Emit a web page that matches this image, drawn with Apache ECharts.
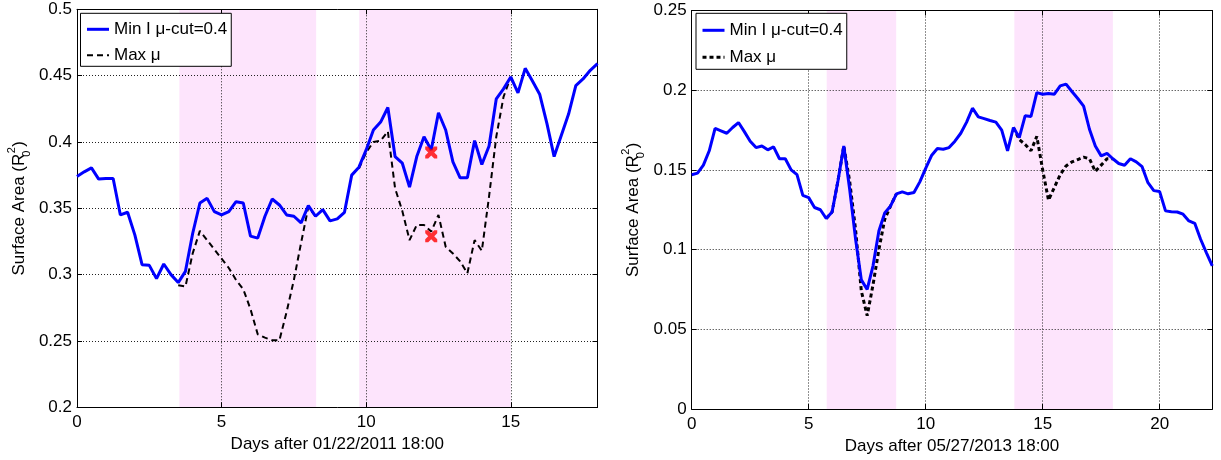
<!DOCTYPE html>
<html>
<head>
<meta charset="utf-8">
<title>Surface area</title>
<script src="https://cdn.jsdelivr.net/npm/echarts@6.0.0/dist/echarts.min.js"></script>
<style>
  html, body { margin: 0; padding: 0; background: #fff; }
  #myChart { width: 1221px; height: 460px; }
</style>
</head>
<body>
<div id="myChart"></div>
<script>
const FONT = '"Liberation Sans", Arial, Helvetica, sans-serif'
const NAME_MIN = 'Min I μ-cut=0.4'
const NAME_MAX = 'Max μ'

// left panel: days after 01/22/2011 18:00
const leftDays = [
  0, 0.25, 0.5, 0.75, 1, 1.25, 1.5, 1.75, 2, 2.25, 2.5, 2.75, 3, 3.25, 3.5, 3.75,
  4, 4.25, 4.5, 4.75, 5, 5.25, 5.5, 5.75, 6, 6.25, 6.5, 6.75, 7, 7.25, 7.5, 7.75,
  8, 8.25, 8.5, 8.75, 9, 9.25, 9.5, 9.75, 10, 10.25, 10.5, 10.75, 11, 11.25, 11.5, 11.75,
  12, 12.25, 12.5, 12.75, 13, 13.25, 13.5, 13.75, 14, 14.25, 14.5, 14.75, 15, 15.25, 15.5, 15.75,
  16, 16.25, 16.5, 16.75, 17, 17.25, 17.5, 17.75, 18
]
const leftMinI = [
  0.374, 0.3775, 0.3805, 0.372, 0.3725, 0.3725, 0.345, 0.347, 0.330, 0.3075, 0.307, 0.297, 0.308, 0.300, 0.294, 0.3025,
  0.331, 0.354, 0.3575, 0.3475, 0.345, 0.3475, 0.355, 0.354, 0.329, 0.3275, 0.344, 0.357, 0.3525, 0.345, 0.344, 0.339,
  0.352, 0.344, 0.349, 0.3405, 0.342, 0.347, 0.375, 0.381, 0.394, 0.409, 0.415, 0.426, 0.389, 0.384, 0.366, 0.389,
  0.404, 0.394, 0.422, 0.409, 0.385, 0.373, 0.373, 0.401, 0.383, 0.397, 0.4325, 0.440, 0.449, 0.437, 0.4555, 0.446,
  0.436, 0.414, 0.389, 0.405, 0.421, 0.4425, 0.4475, 0.454, 0.459
]
const leftMaxMu = [
  null, null, null, null, null, null, null, null, null, null, null, null, null, null, 0.292, 0.291,
  0.316, 0.333, 0.326, 0.319, 0.312, 0.305, 0.296, 0.289, 0.274, 0.255, 0.2525, 0.2505, 0.2505, 0.272, 0.296, 0.324,
  0.351, 0.344, null, null, null, null, null, 0.380, 0.392, 0.400, 0.401, 0.408, 0.365, 0.348, 0.326, 0.3375,
  0.3375, 0.3325, 0.345, 0.321, 0.316, 0.310, 0.301, 0.326, 0.318, 0.359, 0.404, 0.434, 0.449, null, null, null,
  null, null, null, null, null, null, null, null, null
]
const leftCrosses = [[12.25, 0.392], [12.25, 0.329]]
const leftShade = [[3.54, 8.27], [9.76, 15.0]]

// right panel: days after 05/27/2013 18:00
const rightDays = [
  0, 0.25, 0.5, 0.75, 1, 1.25, 1.5, 1.75, 2, 2.25, 2.5, 2.75, 3, 3.25, 3.5, 3.75,
  4, 4.25, 4.5, 4.75, 5, 5.25, 5.5, 5.75, 6, 6.25, 6.5, 6.75, 7, 7.25, 7.5, 7.75,
  8, 8.25, 8.5, 8.75, 9, 9.25, 9.5, 9.75, 10, 10.25, 10.5, 10.75, 11, 11.25, 11.5, 11.75,
  12, 12.25, 12.5, 12.75, 13, 13.25, 13.5, 13.75, 14, 14.25, 14.5, 14.75, 15, 15.25, 15.5, 15.75,
  16, 16.25, 16.5, 16.75, 17, 17.25, 17.5, 17.75, 18, 18.25, 18.5, 18.75, 19, 19.25, 19.5, 19.75,
  20, 20.25, 20.5, 20.75, 21, 21.25, 21.5, 21.75, 22, 22.25
]
const rightMinI = [
  0.147, 0.148, 0.153, 0.162, 0.176, 0.1745, 0.173, 0.1766, 0.1797, 0.174, 0.168, 0.164, 0.165, 0.1626, 0.1644, 0.157,
  0.157, 0.150, 0.147, 0.134, 0.1326, 0.1264, 0.125, 0.1195, 0.1236, 0.143, 0.165, 0.138, 0.107, 0.081, 0.075, 0.0898,
  0.1117, 0.123, 0.1274, 0.135, 0.1362, 0.135, 0.1358, 0.1425, 0.151, 0.159, 0.1634, 0.163, 0.164, 0.168, 0.173, 0.180,
  0.1887, 0.1833, 0.1822, 0.181, 0.180, 0.175, 0.162, 0.1766, 0.1703, 0.1839, 0.1835, 0.1985, 0.1975, 0.1979, 0.1975, 0.2027,
  0.2038, 0.1992, 0.1948, 0.190, 0.1755, 0.165, 0.1588, 0.1603, 0.157, 0.154, 0.1529, 0.157, 0.155, 0.152, 0.142, 0.137,
  0.1364, 0.1243, 0.1238, 0.1236, 0.1222, 0.118, 0.1165, 0.1065, 0.098, 0.0898
]
const rightMaxMu = [
  null, null, null, null, null, null, null, null, null, null, null, null, null, null, null, null,
  null, null, null, null, null, null, null, 0.1195, 0.1236, 0.143, 0.165, 0.143, 0.113, 0.074, 0.0585, 0.078,
  0.100, 0.119, 0.1274, 0.135, null, null, null, null, null, null, null, null, null, null, null, null,
  null, null, null, null, null, null, null, 0.1766, 0.169, 0.166, 0.162, 0.171, 0.150, 0.131, 0.139, 0.147,
  0.1525, 0.155, 0.1565, 0.158, 0.157, 0.149, 0.153, 0.157, 0.157, null, null, null, null, null, null, null,
  null, null, null, null, null, null, null, null, null, null
]
const rightShade = [[5.77, 8.74], [13.79, 18.0]]

const chart = echarts.init(document.getElementById('myChart'))

function pairs(days, vals) {
  return days.map((d, i) => [d, vals[i] == null ? '-' : vals[i]])
}

const yName = '{a|Surface Area (R}{b|0}{c|2}{a|)}'
const yRich = {
  a: { fontSize: 17, fontFamily: FONT, color: '#000', lineHeight: 26 },
  b: { fontSize: 11, fontFamily: FONT, color: '#000', lineHeight: 26, verticalAlign: 'bottom', width: 0 },
  c: { fontSize: 11, fontFamily: FONT, color: '#000', lineHeight: 26, verticalAlign: 'top', width: 7 }
}

const gridLine = { show: true, lineStyle: { color: '#222', width: 1, type: [1, 2] } }
const boxLine = { show: true, onZero: false, lineStyle: { color: '#000', width: 1 } }
const inTick = { show: true, inside: true, length: 5, lineStyle: { color: '#000' } }

function xAxes(grid, max, name) {
  return [
    {
      gridIndex: grid, type: 'value', min: 0, max: max, interval: 5,
      name: name, nameLocation: 'middle', nameGap: 29,
      nameTextStyle: { fontSize: 17, fontFamily: FONT, color: '#000' },
      axisLine: boxLine, axisTick: inTick, splitLine: gridLine,
      axisLabel: {
        fontSize: 17, fontFamily: FONT, color: '#000', margin: 7,
        showMaxLabel: false,
        formatter: v => (v % 5 === 0 ? String(v) : '')
      }
    },
    {
      gridIndex: grid, type: 'value', position: 'top', min: 0, max: max, interval: 5,
      axisLine: boxLine, axisTick: inTick, splitLine: { show: false }, axisLabel: { show: false }
    }
  ]
}

function yAxes(grid, min, max, interval) {
  return [
    {
      gridIndex: grid, type: 'value', min: min, max: max, interval: interval,
      name: yName, nameLocation: 'middle', nameGap: 45,
      nameTextStyle: { fontSize: 17, fontFamily: FONT, color: '#000', rich: yRich },
      axisLine: boxLine, axisTick: inTick, splitLine: gridLine,
      axisLabel: { fontSize: 17, fontFamily: FONT, color: '#000', margin: 5 }
    },
    {
      gridIndex: grid, type: 'value', position: 'right', min: min, max: max, interval: interval,
      axisLine: boxLine, axisTick: inTick, splitLine: { show: false }, axisLabel: { show: false }
    }
  ]
}

function shadeSeries(xi, yi, ranges) {
  return {
    type: 'line', xAxisIndex: xi, yAxisIndex: yi, data: [], silent: true, z: -1,
    markArea: {
      silent: true, z: -1,
      itemStyle: { color: '#fde4fc' },
      data: ranges.map(r => [{ xAxis: r[0] }, { xAxis: r[1] }])
    }
  }
}

const crossPath = 'path://M0,0L3,0L6,3L9,0L12,0L12,3L9,6L12,9L12,12L9,12L6,9L3,12L0,12L0,9L3,6L0,3Z'

// legend shows only the line sample, no marker
const legendBase = {
  orient: 'vertical', itemWidth: 22, itemHeight: 14, itemGap: 8,
  backgroundColor: '#fff', borderColor: '#000', borderWidth: 1, borderRadius: 0,
  selectedMode: false,
  itemStyle: { opacity: 0 },
  textStyle: { fontSize: 17, fontFamily: FONT, color: '#000', lineHeight: 18 }
}

const option = {
  animation: false,
  backgroundColor: '#fff',
  grid: [
    { left: 77, top: 9.3, width: 520.5, height: 398 },
    { left: 691.7, top: 10.5, width: 520.6, height: 399.5 }
  ],
  legend: [
    Object.assign({}, legendBase, {
      left: 80.5, top: 13.3, padding: [7, 4, 2, 5],
      data: [
        { name: NAME_MIN, lineStyle: { width: 3, color: '#0000ff' } },
        { name: NAME_MAX, lineStyle: { type: [6, 4], width: 2, color: '#000' } }
      ]
    }),
    Object.assign({}, legendBase, {
      left: 696, top: 13.3, padding: [8, 4, 3, 5], itemGap: 9,
      data: [
        { name: NAME_MIN, lineStyle: { width: 3, color: '#0000ff' } },
        { name: NAME_MAX, lineStyle: { type: [4, 3], width: 3, color: '#000' } }
      ]
    })
  ],
  xAxis: xAxes(0, 18, 'Days after 01/22/2011 18:00').concat(xAxes(1, 22.25, 'Days after 05/27/2013 18:00')),
  yAxis: yAxes(0, 0.2, 0.5, 0.05).concat(yAxes(1, 0, 0.25, 0.05)),
  series: [
    shadeSeries(0, 0, leftShade),
    {
      name: NAME_MIN, type: 'line', xAxisIndex: 0, yAxisIndex: 0, z: 3,
      data: pairs(leftDays, leftMinI), symbol: 'none',
      lineStyle: { color: '#0000ff', width: 3 }, itemStyle: { color: '#0000ff' }
    },
    {
      name: NAME_MAX, type: 'line', xAxisIndex: 0, yAxisIndex: 0, z: 2,
      data: pairs(leftDays, leftMaxMu), symbol: 'none',
      lineStyle: { color: '#000', width: 2, type: [6, 4] }, itemStyle: { color: '#000' }
    },
    {
      type: 'scatter', xAxisIndex: 0, yAxisIndex: 0, z: 4,
      data: leftCrosses, symbol: crossPath, symbolSize: 12,
      itemStyle: { color: '#ff0000' }
    },
    shadeSeries(2, 2, rightShade),
    {
      name: NAME_MIN, type: 'line', xAxisIndex: 2, yAxisIndex: 2, z: 3,
      data: pairs(rightDays, rightMinI), symbol: 'none',
      lineStyle: { color: '#0000ff', width: 3 }, itemStyle: { color: '#0000ff' }
    },
    {
      name: NAME_MAX, type: 'line', xAxisIndex: 2, yAxisIndex: 2, z: 2,
      data: pairs(rightDays, rightMaxMu), symbol: 'none',
      lineStyle: { color: '#000', width: 3, type: [4, 3] }, itemStyle: { color: '#000' }
    }
  ]
}

chart.setOption(option)
window.addEventListener('resize', () => chart.resize())
</script>
</body>
</html>
